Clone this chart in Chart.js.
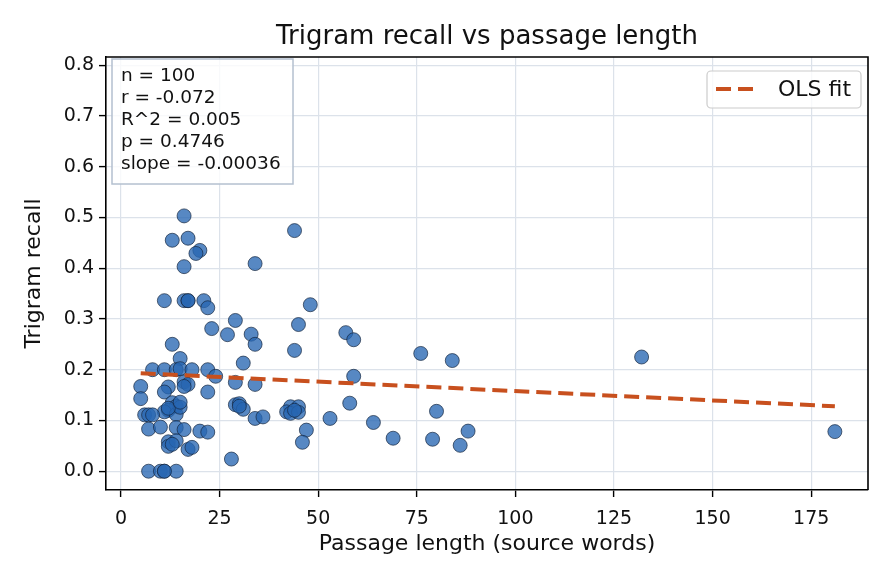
<!DOCTYPE html>
<html>
<head>
<meta charset="utf-8">
<script src="https://cdn.jsdelivr.net/npm/chart.js@4.4.1/dist/chart.umd.min.js"></script>
<style>
  html, body { margin: 0; padding: 0; background: #fff; }
  #wrap { width: 896px; height: 584px; }
</style>
</head>
<body>
<div id="wrap"><canvas id="scatter" width="896" height="584"></canvas></div>
<script>
const passageLength = [181, 132, 76, 84, 88, 86, 80, 79, 69, 64, 53, 59, 58, 57, 59, 48, 45, 44, 44, 47,
  46, 43, 45, 42, 43, 45, 34, 33, 34, 29, 27, 31, 29, 34, 29, 30, 31, 34, 36, 28,
  16, 13, 17, 20, 19, 16, 11, 16, 17, 21, 22, 23, 13, 15, 8, 11, 14, 15, 18, 22,
  24, 5, 5, 12, 11, 16, 17, 22, 13, 14, 12, 11, 14, 6, 7, 8, 7, 10, 14, 16,
  20, 22, 12, 12, 14, 17, 18, 7, 10, 11, 14, 16, 15, 12, 15, 44, 11, 13, 30, 17];
const trigramRecall = [0.078, 0.225, 0.232, 0.218, 0.079, 0.051, 0.118, 0.063, 0.065, 0.096, 0.104, 0.187, 0.134, 0.273, 0.259, 0.328, 0.289, 0.474, 0.238, 0.081,
  0.057, 0.127, 0.127, 0.117, 0.114, 0.116, 0.409, 0.270, 0.250, 0.297, 0.269, 0.213, 0.175, 0.171, 0.131, 0.133, 0.122, 0.104, 0.107, 0.024,
  0.503, 0.455, 0.459, 0.435, 0.429, 0.403, 0.336, 0.336, 0.336, 0.336, 0.322, 0.281, 0.250, 0.222, 0.200, 0.200, 0.200, 0.202, 0.200, 0.200,
  0.187, 0.167, 0.143, 0.166, 0.156, 0.176, 0.171, 0.156, 0.135, 0.128, 0.120, 0.117, 0.112, 0.111, 0.111, 0.111, 0.083, 0.087, 0.086, 0.082,
  0.079, 0.077, 0.058, 0.049, 0.060, 0.043, 0.047, 0.0, 0.0, 0.0, 0.0, 0.167, 0.126, 0.124, 0.136, 0.120, 0.0, 0.053, 0.128, 0.336];

// OLS fit endpoints
const fitX = [5, 181];
const fitY = [0.193, 0.128];

const xTicks = [0, 25, 50, 75, 100, 125, 150, 175];
const yTicks = [0.0, 0.1, 0.2, 0.3, 0.4, 0.5, 0.6, 0.7, 0.8];

const chartTitle = 'Trigram recall vs passage length';
const statsLines = ['n = 100', 'r = -0.072', 'R^2 = 0.005', 'p = 0.4746', 'slope = -0.00036'];

const FONT = "'DejaVu Sans', 'Liberation Sans', sans-serif";

// title over the plot area, frame, stats box and legend
const framePlugin = {
  id: 'frame',
  afterDatasetsDraw(chart) {
    const { ctx, chartArea: a } = chart;
    ctx.save();
    ctx.fillStyle = '#111';
    ctx.font = '26px ' + FONT;
    ctx.textAlign = 'center';
    ctx.textBaseline = 'middle';
    ctx.fillText(chartTitle, (a.left + a.right) / 2, 37);
    ctx.textAlign = 'left';

    ctx.strokeStyle = '#000';
    ctx.lineWidth = 1.6;
    ctx.beginPath();
    ctx.moveTo(a.left, a.top);
    ctx.lineTo(a.right, a.top);
    ctx.lineTo(a.right, a.bottom);
    ctx.stroke();

    // stats box
    ctx.fillStyle = 'rgba(255,255,255,0.8)';
    ctx.fillRect(a.left + 6, a.top + 2, 181, 125);
    ctx.strokeStyle = '#b4c0cf';
    ctx.lineWidth = 1.5;
    ctx.strokeRect(a.left + 6, a.top + 2, 181, 125);
    ctx.fillStyle = '#111';
    ctx.font = '18.5px ' + FONT;
    statsLines.forEach((t, i) => ctx.fillText(t, a.left + 15, a.top + 19 + i * 22));

    // legend
    const lx = a.right - 161, ly = a.top + 14, lw = 154, lh = 37;
    ctx.beginPath();
    ctx.roundRect(lx, ly, lw, lh, 4);
    ctx.fillStyle = 'rgba(255,255,255,0.8)';
    ctx.fill();
    ctx.strokeStyle = '#cccccc';
    ctx.lineWidth = 1.2;
    ctx.stroke();
    ctx.beginPath();
    ctx.setLineDash([15, 7]);
    ctx.strokeStyle = '#c8501e';
    ctx.lineWidth = 4;
    ctx.moveTo(lx + 9, ly + 18);
    ctx.lineTo(lx + 47, ly + 18);
    ctx.stroke();
    ctx.setLineDash([]);
    ctx.fillStyle = '#111';
    ctx.font = '22px ' + FONT;
    ctx.fillText(chart.data.datasets[0].label, lx + 71, ly + 19);
    ctx.restore();
  }
};

new Chart(document.getElementById('scatter'), {
  type: 'scatter',
  data: {
    datasets: [
      {
        type: 'line',
        label: 'OLS fit',
        data: fitX.map((x, i) => ({ x: x, y: fitY[i] })),
        borderColor: '#c8501e',
        borderWidth: 4,
        borderDash: [15, 7],
        pointRadius: 0,
        fill: false,
        order: 0,
      },
      {
        label: 'passages',
        data: passageLength.map((x, i) => ({ x: x, y: trigramRecall[i] })),
        backgroundColor: 'rgba(40, 102, 178, 0.78)',
        borderColor: 'rgba(20, 35, 60, 0.85)',
        borderWidth: 0.8,
        pointRadius: 7,
        order: 1,
      },
    ],
  },
  options: {
    responsive: false,
    animation: false,
    layout: { padding: { left: 0, right: 28, top: 57, bottom: 0 } },
    plugins: {
      legend: { display: false },
      tooltip: { enabled: false },
      title: { display: false },
    },
    scales: {
      x: {
        type: 'linear',
        min: -3.8,
        max: 189.4,
        afterFit(scale) { scale.height = 94; },
        afterBuildTicks(scale) { scale.ticks = xTicks.map(v => ({ value: v })); },
        ticks: {
          color: '#111',
          font: { family: FONT, size: 19 },
          padding: 11,
          maxRotation: 0,
        },
        grid: { color: '#dce2ea', lineWidth: 1.2, tickColor: '#000', tickLength: 7, tickWidth: 1.4 },
        border: { display: true, color: '#000', width: 1.6 },
        title: {
          display: true,
          text: 'Passage length (source words)',
          color: '#111',
          font: { family: FONT, size: 22, lineHeight: 1.2 },
          padding: { top: 0, bottom: 27 },
        },
      },
      y: {
        type: 'linear',
        min: -0.037,
        max: 0.816,
        afterFit(scale) { scale.width = 106; },
        afterBuildTicks(scale) { scale.ticks = yTicks.map(v => ({ value: v })); },
        ticks: {
          color: '#111',
          font: { family: FONT, size: 19 },
          padding: 5,
          callback: v => Number(v).toFixed(1),
        },
        grid: { color: '#dce2ea', lineWidth: 1.2, tickColor: '#000', tickLength: 7, tickWidth: 1.4 },
        border: { display: true, color: '#000', width: 1.6 },
        title: {
          display: true,
          text: 'Trigram recall',
          color: '#111',
          font: { family: FONT, size: 22, lineHeight: 1.2 },
          padding: { top: 21, bottom: 0 },
        },
      },
    },
  },
  plugins: [framePlugin],
});
</script>
</body>
</html>
